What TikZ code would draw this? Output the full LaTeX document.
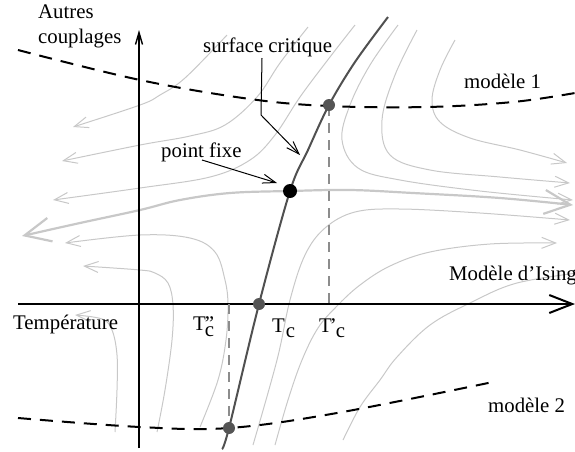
\documentclass[tikz,border=0pt]{standalone}
\usepackage{fontspec}
\setmainfont{Liberation Serif}
\usetikzlibrary{arrows.meta}
\definecolor{flow}{RGB}{200,200,200}
\definecolor{crit}{RGB}{80,80,80}
\definecolor{dotg}{RGB}{85,85,85}
\definecolor{vdash}{RGB}{140,140,140}
\begin{document}
\begin{tikzpicture}[x=1pt,y=-1pt,
  flowline/.style={draw=flow, line width=1pt, -{Straight Barb[length=14pt,width=11pt]}},
  flowplain/.style={draw=flow, line width=1pt},
  mainflow/.style={draw=flow, line width=2.2pt, {Straight Barb[length=26pt,width=24pt]}-{Straight Barb[length=26pt,width=24pt]}},
  modline/.style={draw=black, line width=2pt, dash pattern=on 13pt off 9pt},
  vdashline/.style={draw=vdash, line width=1.5pt, dash pattern=on 10pt off 7pt},
  critline/.style={draw=crit, line width=2pt},
  leader/.style={draw=black, line width=1pt, -{Straight Barb[length=13pt,width=9pt]}},
  gdot/.style={circle, fill=dotg, minimum size=12pt, inner sep=0pt},
  bdot/.style={circle, fill=black, minimum size=14pt, inner sep=0pt},
  lbl/.style={font=\fontsize{20.8}{25}\selectfont, inner sep=0pt, anchor=base west},
]
\useasboundingbox (0,0) rectangle (575,451);

% ---- flow lines (left-going, upper) ----
\draw[flowline] plot[smooth, tension=0.6] coordinates {(227,35) (185,78) (160,95) (140,105) (73,127)};
\draw[flowline] plot[smooth, tension=0.6] coordinates {(308,27) (280,63) (257,97) (225,125) (190,136) (140,145) (62,161)};
\draw[flowline] plot[smooth, tension=0.6] coordinates {(355,25) (330,57) (300,97) (275,135) (250,160) (210,177) (140,188) (53,200)};
% ---- flow lines (left-going, lower) ----
\draw[flowline] plot[smooth, tension=0.6] coordinates {(200,427) (218,380) (226,340) (228,305) (225,280) (215,252) (190,238) (140,235) (65,243)};
\draw[flowline] plot[smooth, tension=0.6] coordinates {(157,432) (165,390) (172,340) (173,305) (168,283) (155,273) (140,270) (83,266)};
\draw[flowline] plot[smooth, tension=0.6] coordinates {(115,432) (117,390) (117,355) (112,330) (102,319) (75,315)};
% ---- flow lines (right-going, upper) ----
\draw[flowline] plot[smooth, tension=0.6] coordinates {(455,40) (440,70) (432,100) (440,122) (470,138) (520,150) (567,163)};
\draw[flowline] plot[smooth, tension=0.6] coordinates {(417,30) (395,75) (382,120) (390,155) (430,170) (500,177) (570,183)};
\draw[flowline] plot[smooth, tension=0.6] coordinates {(398,25) (370,65) (350,105) (342,140) (358,168) (400,180) (480,191) (573,200)};
% ---- flow lines (right-going, lower) ----
\draw[flowline] plot[smooth, tension=0.6] coordinates {(253,445) (277,360) (290,300) (305,255) (325,228) (355,212) (400,209) (480,213) (570,220)};
\draw[flowline] plot[smooth, tension=0.6] coordinates {(275,445) (288,400) (302,360) (318,328) (337,306) (360,285) (390,266) (430,252) (490,244) (557,243)};
\draw[flowplain] plot[smooth, tension=0.6] coordinates {(343,440) (360,407) (380,380) (397,357) (430,325) (470,303) (517,283) (585,272)};
% ---- main flow through fixed point ----
\draw[mainflow] plot[smooth, tension=0.6] coordinates {(22,236) (80,223) (140,210) (180,200) (230,193) (290,191) (350,190) (413,193) (500,198) (573,205)};

% ---- model lines ----
\draw[modline] plot[smooth, tension=0.6] coordinates {(18,50) (140,80) (250,99) (329,106) (427,107) (513,102) (575,93)};
\draw[modline] plot[smooth, tension=0.6] coordinates {(18,418) (140,427) (229,428) (337,413) (493,382)};

% ---- axes ----
\coordinate (xs) at (18,304);
\coordinate (xe) at (575,304);
\coordinate (ys) at (139,448);
\coordinate (ye) at (139,30);
\draw[line width=2pt, -{Straight Barb[length=23pt,width=18pt]}] (xs) -- (xe);
\draw[line width=1.4pt, -{Straight Barb[length=12pt,width=7pt]}] (ys) -- (ye);

% ---- vertical gray dashed ----
\draw[vdashline] (329,106) -- (329,304);
\draw[vdashline] (229,304) -- (229,428);

% ---- critical surface ----
\draw[critline] plot[smooth, tension=0.55] coordinates {(388,17) (355,62) (329,105) (308,150) (290,191) (259,304) (229,428) (222,449)};

% ---- dots ----
\node[gdot] (p1) at (329,105) {};
\node[gdot] (tc) at (259,304) {};
\node[gdot] (p2) at (229,428) {};
\node[bdot] (fp) at (290,191) {};

% ---- labels ----
\node[lbl] (autres) at (38,18) {Autres};
\node[lbl] (coupl) at (38,43) {couplages};
\node[lbl] (surf) at (203,52) {surface critique};
\node[lbl] (pfix) at (161,157) {point fixe};
\node[lbl] (mod1) at (464,88) {modèle 1};
\node[lbl] (ising) at (449,280) {Modèle d’Ising};
\node[lbl] (mod2) at (488,412) {modèle 2};
\node[lbl] (temp) at (13,329) {Température};
\node[lbl] (tcpp) at (193,330) {T\kern-1pt\rlap{"}\raisebox{-6pt}{c}};
\node[lbl] (tclbl) at (272,332) {T\kern1pt\raisebox{-5pt}{c}};
\node[lbl] (tcp) at (319,332) {T\kern-2pt’\kern-1pt\raisebox{-5pt}{c}};

% ---- leaders ----
\coordinate (sa) at (262,58);
\coordinate (sb) at (261,115);
\coordinate (sc) at (300,155);
\draw[leader] (sa) -- (sb) -- (sc);
\coordinate (pa) at (202,160);
\coordinate (pb) at (277,183);
\draw[leader] (pa) -- (pb);
\end{tikzpicture}
\end{document}
